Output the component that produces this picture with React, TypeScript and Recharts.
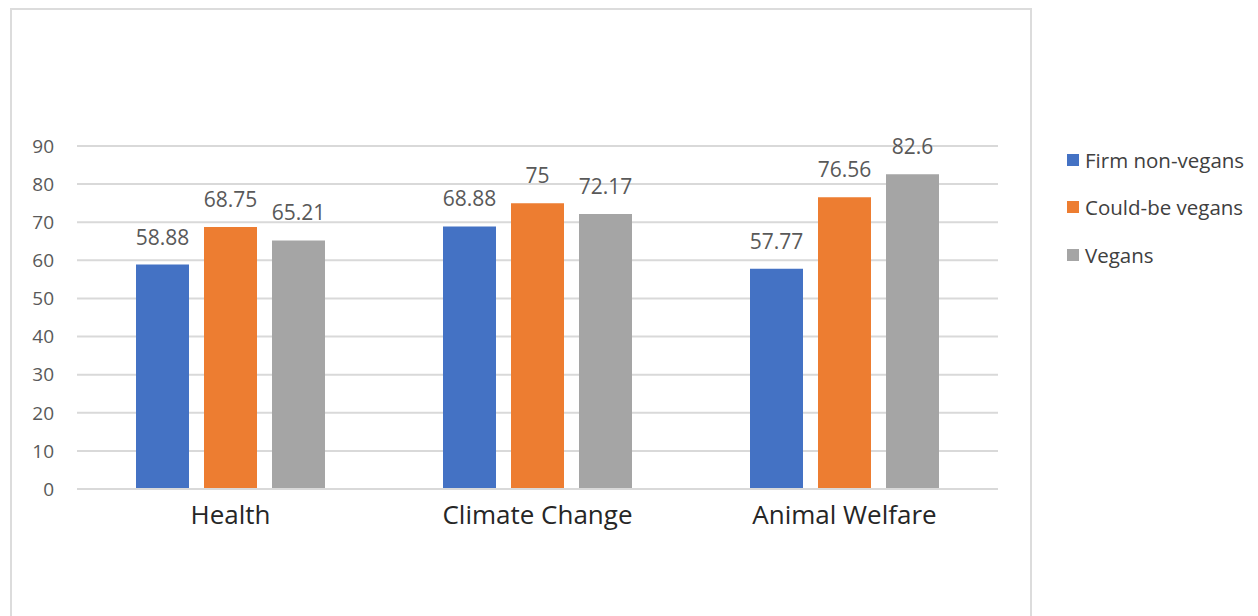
import { Bar, BarChart, CartesianGrid, LabelList, XAxis, YAxis } from "recharts";

// Motivation scores by group
const categories = ["Health", "Climate Change", "Animal Welfare"];
const firmNonVegans = [58.88, 68.88, 57.77];
const couldBeVegans = [68.75, 75, 76.56];
const vegans = [65.21, 72.17, 82.6];
const yTicks = [0, 10, 20, 30, 40, 50, 60, 70, 80, 90];

const series = [
  { key: "firm", name: "Firm non-vegans", color: "#4472C4" },
  { key: "could", name: "Could-be vegans", color: "#ED7D31" },
  { key: "vegans", name: "Vegans", color: "#A5A5A5" },
];

const data = categories.map((c, i) => ({
  category: c,
  firm: firmNonVegans[i],
  could: couldBeVegans[i],
  vegans: vegans[i],
}));

const FONT = "'Open Sans', 'Noto Sans', sans-serif";

function LegendBox() {
  return (
    <div
      style={{
        position: "absolute",
        left: 1067,
        top: 136,
        fontFamily: FONT,
        fontSize: 20.5,
        color: "#404040",
        whiteSpace: "nowrap",
      }}
    >
      {series.map((s) => (
        <div key={s.key} style={{ display: "flex", alignItems: "center", height: 47.5 }}>
          <span style={{ width: 12, height: 12, background: s.color, marginRight: 6, display: "inline-block" }} />
          <span>{s.name}</span>
        </div>
      ))}
    </div>
  );
}

export default function App() {
  return (
    <div style={{ position: "absolute", left: 0, top: 0, width: 1258, height: 616, background: "#fff", overflow: "hidden" }}>
      <div
        style={{
          position: "absolute",
          left: 10,
          top: 8,
          width: 1022,
          height: 700,
          border: "2px solid #dcdcdc",
          boxSizing: "border-box",
        }}
      />
      <BarChart
        width={1258}
        height={616}
        data={data}
        margin={{ top: 146, right: 260, bottom: 87, left: 17 }}
        barSize={53}
        barGap={15}
        style={{ position: "absolute", left: 0, top: 0 }}
      >
        <CartesianGrid vertical={false} stroke="#d9d9d9" strokeWidth={2} />
        <XAxis
          dataKey="category"
          height={40}
          axisLine={{ stroke: "#d9d9d9", strokeWidth: 2 }}
          tickLine={false}
          tickMargin={11}
          tick={{ fill: "#262626", fontSize: 26, fontFamily: FONT }}
        />
        <YAxis
          width={60}
          domain={[0, 90]}
          ticks={yTicks}
          axisLine={false}
          tickLine={false}
          tickMargin={17}
          tick={{ fill: "#595959", fontSize: 19, fontFamily: FONT }}
        />
        {series.map((s) => (
          <Bar key={s.key} dataKey={s.key} name={s.name} fill={s.color} isAnimationActive={false}>
            <LabelList
              dataKey={s.key}
              position="top"
              offset={20}
              fill="#595959"
              fontSize={21}
              fontFamily={FONT}
            />
          </Bar>
        ))}
      </BarChart>
      <LegendBox />
    </div>
  );
}
